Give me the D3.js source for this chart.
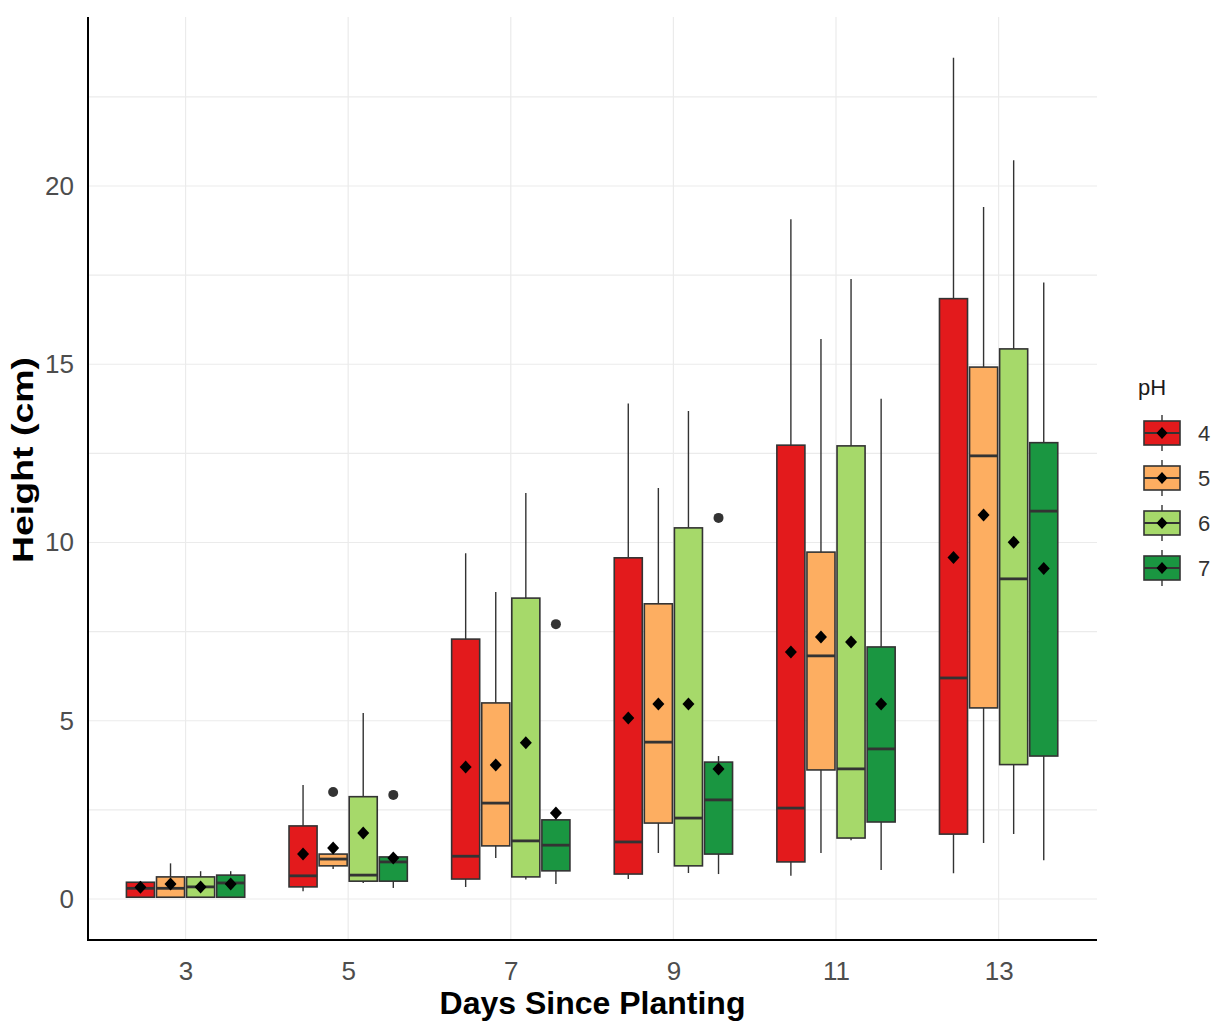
<!DOCTYPE html>
<html>
<head>
<meta charset="utf-8">
<script src="https://cdn.jsdelivr.net/npm/d3@7"></script>
<style>
  body { margin: 0; background: #fff; }
  svg text { font-family: "Liberation Sans", Arial, sans-serif; }
</style>
</head>
<body>
<div id="chart"></div>
<script>
const days = [3, 5, 7, 9, 11, 13];
const phLevels = ['4', '5', '6', '7'];
const phColors = ['#e31a1c', '#fdae61', '#a6d96a', '#1a9641'];
const yTicks = [0, 5, 10, 15, 20];

// per day: [lower whisker, q1, median, q3, upper whisker]
const ph4Stats = [[0.05, 0.05, 0.30, 0.47, 0.50], [0.22, 0.34, 0.65, 2.05, 3.20], [0.34, 0.56, 1.20, 7.29, 9.70],
                  [0.56, 0.70, 1.60, 9.57, 13.90], [0.65, 1.04, 2.55, 12.73, 19.07], [0.72, 1.82, 6.20, 16.84, 23.60]];
const ph5Stats = [[0.05, 0.05, 0.30, 0.62, 1.00], [0.84, 0.93, 1.12, 1.26, 1.30], [1.15, 1.49, 2.69, 5.50, 8.61],
                  [1.29, 2.13, 4.40, 8.28, 11.53], [1.29, 3.62, 6.82, 9.73, 15.71], [1.57, 5.36, 12.43, 14.92, 19.41]];
const ph6Stats = [[0.05, 0.05, 0.34, 0.62, 0.78], [0.45, 0.50, 0.67, 2.87, 5.22], [0.55, 0.62, 1.63, 8.44, 11.39],
                  [0.73, 0.93, 2.27, 10.41, 13.69], [1.65, 1.71, 3.65, 12.71, 17.39], [1.82, 3.77, 8.98, 15.43, 20.72]];
const ph7Stats = [[0.05, 0.05, 0.45, 0.67, 0.78], [0.31, 0.50, 1.04, 1.18, 1.20], [0.42, 0.79, 1.51, 2.22, 2.30],
                  [0.70, 1.26, 2.78, 3.84, 4.01], [0.81, 2.16, 4.21, 7.07, 14.03], [1.09, 4.01, 10.88, 12.80, 17.29]];

const ph4Means = [0.33, 1.26, 3.70, 5.08, 6.93, 9.58];
const ph5Means = [0.42, 1.43, 3.76, 5.47, 7.35, 10.77];
const ph6Means = [0.34, 1.85, 4.38, 5.47, 7.21, 10.01];
const ph7Means = [0.42, 1.15, 2.41, 3.65, 5.47, 9.27];

const outlierDays = [5, 5, 7, 9];
const outlierPh = ['5', '7', '7', '7'];
const outlierValues = [3.00, 2.92, 7.71, 10.69];

const statsByPh = [ph4Stats, ph5Stats, ph6Stats, ph7Stats];
const meansByPh = [ph4Means, ph5Means, ph6Means, ph7Means];

const width = 1225, height = 1024;
const panelLeft = 88, panelRight = 1097, panelTop = 17, panelBottom = 940;
const slot = 0.37, boxWidth = 0.345;

const svg = d3.select('#chart').append('svg')
    .attr('width', width)
    .attr('height', height);

const x = d3.scaleLinear().domain([1.8, 14.21]).range([panelLeft, panelRight]);
const y = d3.scaleLinear().domain([-1.15, 24.74]).range([panelBottom, panelTop]);
const color = d3.scaleOrdinal().domain(phLevels).range(phColors);
const offset = ph => (phLevels.indexOf(ph) - 1.5) * slot;

const boxes = [];
phLevels.forEach((ph, i) => {
    statsByPh[i].forEach((s, j) => {
        boxes.push({ day: days[j], ph, lo: s[0], q1: s[1], med: s[2], q3: s[3], hi: s[4], mean: meansByPh[i][j] });
    });
});
const outliers = outlierDays.map((d, i) => ({ day: d, ph: outlierPh[i], v: outlierValues[i] }));

// grid
const grid = svg.append('g');
grid.selectAll('.hgrid')
    .data(d3.range(0, 23, 2.5))
    .enter().append('line')
    .attr('x1', panelLeft).attr('x2', panelRight)
    .attr('y1', d => y(d)).attr('y2', d => y(d))
    .attr('stroke', '#ebebeb').attr('stroke-width', 1.2);
grid.selectAll('.vgrid')
    .data(days)
    .enter().append('line')
    .attr('x1', d => x(d)).attr('x2', d => x(d))
    .attr('y1', panelTop).attr('y2', panelBottom)
    .attr('stroke', '#ebebeb').attr('stroke-width', 1.2);

const half = (x(boxWidth) - x(0)) / 2;
const bx = d => x(d.day + offset(d.ph));

const g = svg.append('g');
// whiskers
g.selectAll('.whisker')
    .data(boxes)
    .enter().append('line')
    .attr('x1', bx).attr('x2', bx)
    .attr('y1', d => y(d.lo)).attr('y2', d => y(d.hi))
    .attr('stroke', '#333').attr('stroke-width', 1.4);
// boxes
g.selectAll('.box')
    .data(boxes)
    .enter().append('rect')
    .attr('x', d => bx(d) - half)
    .attr('width', half * 2)
    .attr('y', d => y(d.q3))
    .attr('height', d => y(d.q1) - y(d.q3))
    .attr('fill', d => color(d.ph))
    .attr('stroke', '#333').attr('stroke-width', 1.6);
// medians
g.selectAll('.median')
    .data(boxes)
    .enter().append('line')
    .attr('x1', d => bx(d) - half).attr('x2', d => bx(d) + half)
    .attr('y1', d => y(d.med)).attr('y2', d => y(d.med))
    .attr('stroke', '#333').attr('stroke-width', 2.8);
// outliers
g.selectAll('.outlier')
    .data(outliers)
    .enter().append('circle')
    .attr('cx', bx).attr('cy', d => y(d.v))
    .attr('r', 5).attr('fill', '#333');
// means
const diamond = (cx, cy, w, h) => `M${cx},${cy - h}L${cx + w},${cy}L${cx},${cy + h}L${cx - w},${cy}Z`;
g.selectAll('.mean')
    .data(boxes)
    .enter().append('path')
    .attr('d', d => diamond(bx(d), y(d.mean), 6, 6.5))
    .attr('fill', '#000');

// axes
const yAxis = d3.axisLeft(y).tickValues(yTicks).tickSize(0).tickPadding(14);
const xAxis = d3.axisBottom(x).tickValues(days).tickSize(0).tickPadding(22);

const yg = svg.append('g').attr('transform', `translate(${panelLeft},0)`).call(yAxis);
const xg = svg.append('g').attr('transform', `translate(0,${panelBottom})`).call(xAxis);
[yg, xg].forEach(a => {
    a.select('.domain').remove();
    a.selectAll('text')
        .attr('font-size', 26)
        .attr('fill', '#4d4d4d')
        .style('font-family', '"Liberation Sans", Arial, sans-serif');
});

svg.append('line')
    .attr('x1', panelLeft).attr('x2', panelLeft)
    .attr('y1', panelTop).attr('y2', panelBottom + 1)
    .attr('stroke', '#000').attr('stroke-width', 2);
svg.append('line')
    .attr('x1', panelLeft - 1).attr('x2', panelRight)
    .attr('y1', panelBottom).attr('y2', panelBottom)
    .attr('stroke', '#000').attr('stroke-width', 2);

svg.append('text')
    .attr('x', (panelLeft + panelRight) / 2)
    .attr('y', 1014)
    .attr('text-anchor', 'middle')
    .attr('font-size', 32)
    .attr('font-weight', 'bold')
    .text('Days Since Planting');

svg.append('text')
    .attr('transform', 'translate(33,460) rotate(-90) scale(1.25,1)')
    .attr('text-anchor', 'middle')
    .attr('font-size', 30)
    .attr('font-weight', 'bold')
    .text('Height (cm)');

// legend
const legend = svg.append('g');
legend.append('text')
    .attr('x', 1138).attr('y', 395)
    .attr('font-size', 22)
    .attr('fill', '#1a1a1a')
    .text('pH');

const keys = legend.selectAll('.key')
    .data(phLevels)
    .enter().append('g')
    .attr('transform', (d, i) => `translate(1162,${433 + i * 45})`);
keys.append('line')
    .attr('x1', 0).attr('x2', 0).attr('y1', -18).attr('y2', 18)
    .attr('stroke', '#333').attr('stroke-width', 1.4);
keys.append('rect')
    .attr('x', -18).attr('y', -12).attr('width', 36).attr('height', 24)
    .attr('fill', d => color(d))
    .attr('stroke', '#333').attr('stroke-width', 1.6);
keys.append('line')
    .attr('x1', -18).attr('x2', 18).attr('y1', 0).attr('y2', 0)
    .attr('stroke', '#333').attr('stroke-width', 1.8);
keys.append('path')
    .attr('d', diamond(0, 0, 5.5, 6))
    .attr('fill', '#000');
keys.append('text')
    .attr('x', 36).attr('y', 0)
    .attr('dy', '0.36em')
    .attr('font-size', 22)
    .attr('fill', '#333')
    .text(d => d);
</script>
</body>
</html>
